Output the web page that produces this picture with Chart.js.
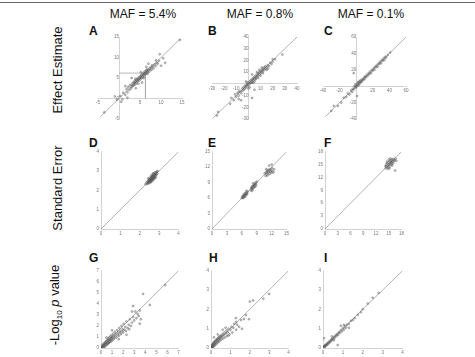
<!DOCTYPE html>
<html>
<head>
<meta charset="utf-8">
<script src="https://cdn.jsdelivr.net/npm/chart.js@4.4.1/dist/chart.umd.min.js"></script>
<style>
  body { margin: 0; background: #fff; width: 475px; height: 357px; position: relative; overflow: hidden;
         font-family: "Liberation Sans", Arial, sans-serif; color: #111; }
  .topline { position: absolute; left: 0; top: 2px; width: 475px; height: 1px; background: #666; }
  .hdr { position: absolute; top: 7px; font-size: 12px; line-height: 14px; white-space: nowrap; transform: translateX(-50%); }
  .rowlab { position: absolute; font-size: 13px; line-height: 15px; white-space: nowrap;
            transform: translate(-50%, -50%) rotate(-90deg); }
  .rowlab sub { font-size: 8px; }
  .letter { position: absolute; font-weight: bold; font-size: 12px; line-height: 12px; }
  canvas { position: absolute; }
</style>
</head>
<body>
<div class="topline"></div>
<div id="labels"></div>

<script>
// ---- data ----
const mafHeaders = ["MAF = 5.4%", "MAF = 0.8%", "MAF = 0.1%"];
const rowTitles = ["Effect Estimate", "Standard Error", "-Log<sub>10</sub> <i>p</i> value"];
const panelLetters = ["A", "B", "C", "D", "E", "F", "G", "H", "I"];

// axis [min, max, step] per panel
const axisA = [-5, 15, 5];
const axisB = [-30, 40, 10];
const axisC = [-40, 60, 20];
const axisD = [0, 4, 1];
const axisE = [0, 15, 3];
const axisF = [0, 18, 3];
const axisG = [0, 7, 1];
const axisH = [0, 4, 1];
const axisI = [0, 4, 1];

// identity line ends
const diagA = [-4.5, 14.5];
const diagB = [-29.5, 40];
const diagC = [-37, 60];
const diagD = [0, 4];
const diagE = [0, 15];
const diagF = [0, 18];
const diagG = [0, 7];
const diagH = [0, 4];
const diagI = [0, 4];

// guide box in panel A
const guideA = [[0, 6.2], [6.3, 6.2], [6.3, 0]];

const effectA = [[-3.5,-3.4],[-0.5,-0.3],[0.3,0.6],[0.8,-0.2],[1,1.4],[1.5,0.9],[1.8,2.3],[2,1.5],[2.2,2.8],[2.5,2.1],
  [2.6,3.2],[2.9,2.5],[3,3.4],[3.1,2.9],[3.3,3.7],[3.4,3.1],[3.5,4.0],[3.6,3.3],[3.7,3.8],[3.8,4.3],[3.9,3.5],[4,4.1],
  [4.1,4.6],[4.2,3.8],[4.3,4.4],[4.4,4.9],[4.5,4.2],[4.6,4.7],[4.7,5.1],[4.8,4.4],[4.9,4.9],[5,5.4],[5.1,4.7],[5.2,5.2],
  [5.3,5.7],[5.4,5.0],[5.5,5.5],[5.6,6.0],[5.7,5.2],[5.8,5.8],[5.9,6.3],[6,5.6],[6.1,6.1],[6.2,6.6],[6.3,5.9],[6.4,6.4],
  [6.5,6.9],[6.6,6.2],[6.7,6.7],[6.8,7.1],[6.9,6.4],[7,7.0],[7.2,6.6],[7.3,7.4],[7.5,6.9],[7.6,7.6],[7.8,7.1],[8,7.8],
  [8.2,7.4],[8.5,8.3],[8.7,7.9],[9,8.7],[9.2,8.5],[9.5,9.2],[8.8,9.3],[10.5,9.8],[9.7,10.8],[14.5,14.3],[2,0.2],[1.5,3],
  [4,2.5],[5.5,3.9],[3,5],[7,8.5],[11,8.7],[10,8],[-1,0.5],[0.5,-0.8],[6.5,7.7],[5.2,6.4],[3.9,4.8],[4.6,3.6],[5.9,5.0],
  [6.8,6.0],[7.9,8.1]];

const effectB = [[-26,-27],[-25,-24],[-14,-12],[-12,-14],[-11,-9],[-10,-11],[-9,-8],[-8,-10],[-7,-6],[-6,-8],[-6,-14],
  [-5,-4],[-5,-6],[-4,-3],[-4,-5],[-3,-2],[-3,-4],[-2,-1],[-2,-3],[-1,0],[-1,-2],[0,1],[0,-1],[1,2],[1,0],[1,-3],[2,3],
  [2,1],[3,4],[3,2],[3,1],[4,5],[4,3],[5,6],[5,4],[5,2],[6,7],[6,5],[6,4],[7,8],[7,6],[7,10],[8,9],[8,7],[8,5],[9,10],
  [9,8],[9,12],[10,11],[10,9],[10,7],[11,12],[11,10],[12,13],[12,11],[12,9],[13,14],[13,12],[14,15],[14,13],[15,14],
  [15,12],[16,16],[17,15],[18,18],[19,17],[20,21],[20,19],[22,21],[28,25],[5,-5],[-8,-7],[0,-4],[-2,2],[3,8],[16,13],
  [11,14],[4,1],[-15,-17],[3,-12],[-8,-13]];

const effectC = [[-27,-24],[-22,-24],[-18,-20],[-15,-14],[-12,-13],[-10,-9],[-8,-10],[-6,-5],[-5,-7],[-4,-3],[-3,-4],
  [-2,0],[-1,-2],[0,1],[0,-1],[1,3],[1,0],[2,2],[2,5],[3,4],[3,1],[4,6],[4,3],[5,5],[5,7],[6,5],[7,8],[7,6],[8,9],[9,8],
  [10,11],[10,9],[11,12],[12,11],[13,14],[14,13],[15,16],[16,15],[17,18],[18,16],[19,20],[20,19],[21,22],[22,20],[23,24],
  [24,23],[25,26],[26,24],[27,28],[28,27],[29,30],[30,28],[31,32],[32,31],[33,34],[34,32],[35,36],[36,35],[38,38],[41,41],
  [-3,16],[1,-12],[-30,-30]];

const seD = [[2.35,2.40],[2.38,2.33],[2.40,2.45],[2.42,2.38],[2.44,2.50],[2.45,2.42],[2.46,2.36],[2.48,2.52],[2.49,2.45],
  [2.50,2.40],[2.51,2.56],[2.52,2.48],[2.53,2.42],[2.54,2.60],[2.55,2.52],[2.56,2.46],[2.57,2.63],[2.58,2.55],[2.59,2.49],
  [2.60,2.66],[2.61,2.58],[2.62,2.52],[2.63,2.70],[2.64,2.61],[2.65,2.55],[2.66,2.73],[2.67,2.64],[2.68,2.58],[2.69,2.76],
  [2.70,2.67],[2.71,2.61],[2.72,2.80],[2.73,2.70],[2.74,2.64],[2.75,2.83],[2.76,2.73],[2.77,2.67],[2.78,2.86],[2.79,2.76],
  [2.80,2.70],[2.82,2.90],[2.83,2.79],[2.85,2.94],[2.86,2.82],[2.88,2.97],[2.90,2.86],[2.47,2.58],[2.55,2.68],[2.62,2.74],
  [2.70,2.84],[2.78,2.92],[2.58,2.42],[2.66,2.50],[2.74,2.58],[2.82,2.66],[2.92,2.99],[2.30,2.32],[2.44,2.62],[2.60,2.78],
  [2.68,2.88]];

const seE = [[6.0,6.0],[6.1,6.3],[6.2,6.1],[6.3,6.4],[6.3,6.0],[6.4,6.3],[6.5,6.6],[6.5,6.2],[6.6,6.5],[6.7,6.8],[6.7,6.3],
  [6.8,6.6],[6.9,6.9],[7.0,6.7],[7.0,7.1],[7.1,6.9],[7.2,7.3],[6.4,6.7],[6.6,6.9],[6.9,7.4],
  [7.8,7.5],[7.9,7.9],[8.0,7.7],[8.0,8.2],[8.1,8.0],[8.2,8.4],[8.2,7.8],[8.3,8.2],[8.4,8.6],[8.4,8.0],[8.5,8.4],[8.6,8.8],
  [8.6,8.2],[8.7,8.6],[8.8,9.0],[8.9,8.7],[9.0,9.2],[8.3,8.9],[8.1,7.4],[8.8,8.3],
  [10.6,10.8],[10.8,10.3],[10.9,11.0],[11.0,10.6],[11.1,11.3],[11.2,10.8],[11.3,11.5],[11.4,11.0],[11.5,11.3],[11.6,10.7],
  [11.7,11.6],[11.8,11.1],[11.9,11.4],[12.0,10.9],[12.1,11.8],[12.2,11.2],[12.4,11.0],[11.5,12.3],[12.0,12.5],[11.2,10.4],
  [10.9,11.6],[12.5,11.6]];

const seF = [[14.2,14.6],[14.3,14.1],[14.4,15.0],[14.5,14.5],[14.6,15.3],[14.7,14.8],[14.8,14.3],[14.9,15.5],[15.0,15.0],
  [15.1,14.6],[15.2,15.8],[15.3,15.3],[15.4,14.9],[15.5,16.0],[15.6,15.5],[15.7,15.1],[15.8,16.2],[15.9,15.7],[16.0,15.3],
  [16.1,16.3],[16.2,15.8],[16.4,16.0],[16.6,16.4],[16.8,15.9],[15.0,16.2],[14.6,15.7],[15.4,16.4],[15.8,14.8],[16.5,13.6],
  [14.9,14.0],[15.2,14.2],[15.5,15.6]];

const logpG = [[0.02,0.05],[0.05,0.1],[0.08,0.02],[0.1,0.2],[0.12,0.08],[0.15,0.3],[0.18,0.12],[0.2,0.25],[0.22,0.05],
  [0.25,0.4],[0.28,0.18],[0.3,0.35],[0.32,0.1],[0.35,0.5],[0.38,0.28],[0.4,0.45],[0.42,0.2],[0.45,0.6],[0.48,0.35],
  [0.5,0.55],[0.52,0.3],[0.55,0.75],[0.58,0.42],[0.6,0.65],[0.62,0.38],[0.65,0.85],[0.68,0.5],[0.7,0.72],[0.72,0.45],
  [0.75,0.95],[0.78,0.6],[0.8,0.8],[0.82,0.55],[0.85,1.05],[0.88,0.7],[0.9,0.9],[0.92,0.6],[0.95,1.15],[0.98,0.78],
  [1.0,1.0],[1.05,0.7],[1.1,1.3],[1.12,0.9],[1.15,1.1],[1.2,0.85],[1.25,1.45],[1.3,1.05],[1.35,1.25],[1.4,0.95],
  [1.45,1.6],[1.5,1.2],[1.55,1.4],[1.6,1.1],[1.65,1.8],[1.7,1.35],[1.75,1.55],[1.8,1.25],[1.85,2.0],[1.9,1.5],[1.95,1.7],
  [2.0,1.4],[2.05,2.2],[2.1,1.65],[2.2,1.9],[2.25,1.55],[2.3,2.4],[2.4,1.8],[2.5,2.1],[2.55,1.7],[2.6,2.6],[2.7,2.0],
  [2.8,2.3],[2.9,2.8],[3.0,2.5],[3.1,3.3],[3.2,2.7],[3.3,3.1],[3.4,2.9],[3.5,3.4],[2.9,3.8],[3.6,2.6],[3.5,2.2],
  [4.4,3.9],[3.8,4.9],[5.8,5.7],[1.0,1.6],[0.5,0.95],[2.8,3.3],[1.6,0.8],[2.3,1.2]];

const logpH = [[0.01,0.02],[0.02,0.08],[0.03,0.01],[0.04,0.12],[0.05,0.05],[0.06,0.15],[0.07,0.03],[0.08,0.1],[0.09,0.2],
  [0.1,0.06],[0.11,0.18],[0.12,0.25],[0.13,0.09],[0.15,0.22],[0.16,0.3],[0.17,0.12],[0.19,0.28],[0.2,0.35],[0.21,0.15],
  [0.23,0.32],[0.25,0.4],[0.26,0.2],[0.28,0.38],[0.3,0.45],[0.31,0.25],[0.33,0.42],[0.35,0.5],[0.37,0.3],[0.39,0.48],
  [0.4,0.55],[0.42,0.35],[0.44,0.52],[0.46,0.6],[0.48,0.4],[0.5,0.58],[0.52,0.65],[0.55,0.45],[0.58,0.62],[0.6,0.72],
  [0.63,0.5],[0.66,0.68],[0.7,0.8],[0.73,0.55],[0.76,0.75],[0.8,0.9],[0.83,0.62],[0.86,0.82],[0.9,1.0],[0.95,0.7],
  [1.0,0.95],[1.05,1.1],[1.1,0.8],[1.15,1.05],[1.2,1.25],[1.3,0.95],[1.35,1.2],[1.45,1.1],[1.55,1.45],[1.7,1.5],[1.8,1.7],
  [2.0,2.4],[2.17,2.46],[2.7,2.55],[3.0,2.8],[1.28,1.55],[1.3,1.35],[1.96,1.49],[0.15,0.55],[0.6,0.95],[0.9,0.65],[1.6,1.0],
  [0.35,0.7],[0.75,1.05]];

const logpI = [[0.01,0.02],[0.03,0.05],[0.05,0.04],[0.07,0.1],[0.09,0.07],[0.11,0.14],[0.13,0.1],[0.15,0.18],[0.17,0.14],
  [0.2,0.22],[0.22,0.18],[0.25,0.27],[0.27,0.23],[0.3,0.32],[0.33,0.28],[0.36,0.38],[0.39,0.34],[0.42,0.44],[0.45,0.4],
  [0.48,0.5],[0.52,0.47],[0.56,0.58],[0.6,0.54],[0.64,0.66],[0.68,0.62],[0.72,0.74],[0.76,0.68],[0.8,0.82],[0.85,0.78],
  [0.9,0.92],[0.95,0.86],[1.0,1.02],[1.05,0.95],[1.1,1.12],[1.15,1.05],[1.2,1.2],[1.3,1.25],[1.4,1.4],[1.5,1.45],
  [1.6,1.55],[1.75,1.72],[1.9,1.85],[2.0,2.0],[2.25,2.3],[2.5,2.6],[2.8,2.85],[0.74,0.15],[0.05,0.5],[0.9,1.15],
  [1.3,1.05],[0.55,0.4],[0.45,0.6],[1.05,1.2]];

// ---- layout (page pixels) ----
// plot area of each panel: [left, top, right, bottom]
const plotBoxes = {
  A: [98, 37, 182, 119], B: [212, 37, 297, 119], C: [323, 37, 406, 119],
  D: [101, 151, 179, 229], E: [212, 151, 287, 229], F: [325, 151, 402, 229],
  G: [101, 270, 179, 348], H: [211, 270, 289, 348], I: [323, 270, 403, 348]
};
const headerX = [143, 260, 371];
const rowCenterY = [70, 188, 305];
const letterPos = {
  A: [89, 25], B: [208, 25], C: [324, 25],
  D: [89, 137], E: [208, 137], F: [324, 137],
  G: [89, 252], H: [209, 252], I: [324, 252]
};

const labelBox = document.getElementById("labels");
mafHeaders.forEach((t, i) => {
  const d = document.createElement("div");
  d.className = "hdr";
  d.style.left = headerX[i] + "px";
  d.textContent = t;
  labelBox.appendChild(d);
});
rowTitles.forEach((t, i) => {
  const d = document.createElement("div");
  d.className = "rowlab";
  d.style.left = "57px";
  d.style.top = rowCenterY[i] + "px";
  d.innerHTML = t;
  labelBox.appendChild(d);
});
panelLetters.forEach((l) => {
  const d = document.createElement("div");
  d.className = "letter";
  d.style.left = letterPos[l][0] + "px";
  d.style.top = letterPos[l][1] + "px";
  d.textContent = l;
  labelBox.appendChild(d);
});

const toXY = (arr) => arr.map(([x, y]) => ({ x, y }));

function makePanel(key, pts, axis, diag, extraLines = []) {
  const [l, t, r, b] = plotBoxes[key];
  const w = r - l, h = b - t;
  const crossing = axis[0] < 0; // effect panels: axes go through the origin
  const canvas = document.createElement("canvas");
  const left = crossing ? l - 6 : l - 12;
  const top = crossing ? t - 6 : t - 4;
  canvas.width = crossing ? w + 12 : w + 16;
  canvas.height = crossing ? h + 12 : h + 14;
  canvas.style.left = left + "px";
  canvas.style.top = top + "px";
  document.body.appendChild(canvas);

  const tickOpts = {
    stepSize: axis[2],
    font: { family: "Liberation Sans", size: 4.5 },
    color: "#777",
    padding: 2,
    maxRotation: 0,
    autoSkip: false,
  };
  const scaleBase = {
    type: "linear",
    min: axis[0],
    max: axis[1],
    grid: { display: false, drawTicks: false },
    border: { display: true, color: "#c8c8c8", width: 0.8 },
  };

  const datasets = [
    {
      data: toXY(pts),
      pointRadius: 1,
      pointBackgroundColor: "rgba(140,140,140,0.45)",
      pointBorderColor: "rgba(70,70,70,0.75)",
      pointBorderWidth: 0.45,
    },
    {
      data: [{ x: diag[0], y: diag[0] }, { x: diag[1], y: diag[1] }],
      showLine: true,
      borderColor: "#a0a0a0",
      borderWidth: 0.8,
      pointRadius: 0,
    },
  ];
  extraLines.forEach((ln) => {
    datasets.push({
      data: toXY(ln),
      showLine: true,
      borderColor: "#aaaaaa",
      borderWidth: 0.8,
      pointRadius: 0,
    });
  });

  new Chart(canvas, {
    type: "scatter",
    data: { datasets },
    options: {
      responsive: false,
      animation: false,
      events: [],
      layout: {
        padding: crossing ? 6 : { left: 0, top: 4, right: 4, bottom: 0 },
      },
      plugins: { legend: { display: false }, tooltip: { enabled: false } },
      scales: {
        x: {
          ...scaleBase,
          position: crossing ? { y: 0 } : "bottom",
          afterFit: (s) => { if (!crossing) s.height = 10; },
          ticks: { ...tickOpts, callback: (v) => (crossing && v === 0 ? "" : v) },
        },
        y: {
          ...scaleBase,
          position: crossing ? { x: 0 } : "left",
          afterFit: (s) => { if (!crossing) s.width = 12; },
          ticks: { ...tickOpts },
        },
      },
    },
  });
}

makePanel("A", effectA, axisA, diagA, [guideA]);
makePanel("B", effectB, axisB, diagB);
makePanel("C", effectC, axisC, diagC);
makePanel("D", seD, axisD, diagD);
makePanel("E", seE, axisE, diagE);
makePanel("F", seF, axisF, diagF);
makePanel("G", logpG, axisG, diagG);
makePanel("H", logpH, axisH, diagH);
makePanel("I", logpI, axisI, diagI);
</script>
</body>
</html>
